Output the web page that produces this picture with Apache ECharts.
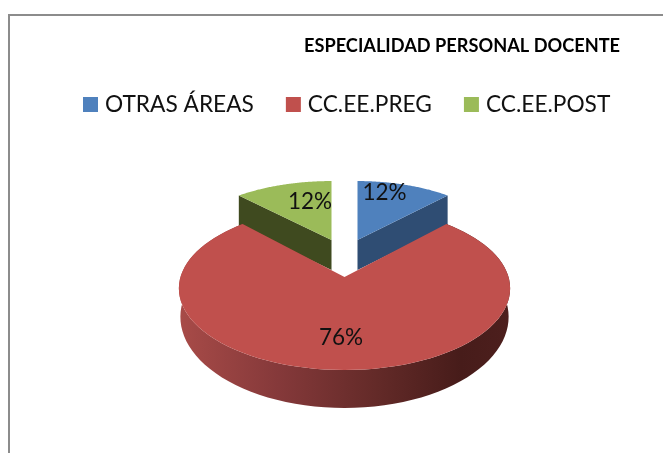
<!DOCTYPE html>
<html>
<head>
<meta charset="utf-8">
<style>html,body{margin:0;padding:0;background:#fff}#c{width:663px;height:453px}</style>
<script src="https://cdn.jsdelivr.net/npm/echarts@6/dist/echarts.min.js"></script>
</head>
<body>
<div id="c"></div>
<script>
var titleText = 'ESPECIALIDAD PERSONAL DOCENTE';
var categories = ['OTRAS ÁREAS', 'CC.EE.PREG', 'CC.EE.POST'];
var values = [12, 76, 12];
var faceColors = ['#4f81bd', '#c0504d', '#9bbb59'];
var wallColors = ['#2f4d73', null, '#3f4a1f'];

// Projection of the tilted disc (perspective), and placement of each exploded slice
var view = { cx: 344.5, top: { y0: 277, a: 164, b: 80 }, bottom: { y0: 304, a: 162.5, b: 89.4 }, k: 0.14 };
var placement = [
  { dx: 13, y0: 240, sx: 0.885, sy: 0.84, depth: 30, lx: 384.5, ly: 193 },
  { dx: 0, y0: 0, sx: 1, sy: 1, depth: 0, lx: 341, ly: 338 },
  { dx: -13, y0: 240, sx: 0.91, sy: 0.84, depth: 30, lx: 310, ly: 202 }
];

var total = values.reduce(function (s, v) { return s + v; }, 0);

function project(theta, r, rim) {
  var u = r * Math.sin(theta), v = r * Math.cos(theta), w = 1 + view.k * v;
  return [rim.a * u / w, -rim.b * v / w];
}
function arc(from, to, rim, ox, oy, sx, sy) {
  var pts = [], n = 90;
  for (var i = 0; i <= n; i++) {
    var p = project(from + (to - from) * i / n, 1, rim);
    pts.push([ox + p[0] * sx, oy + p[1] * sy]);
  }
  return pts;
}

function makeRender(idx) {
  return function (params, api) {
    var before = 0;
    for (var i = 0; i < idx; i++) before += values[i];
    var v = api.value(0);
    var a0 = before / total * 2 * Math.PI, a1 = (before + v) / total * 2 * Math.PI;
    var P = placement[idx], children = [];
    var label = {
      type: 'text', z2: 10,
      style: { x: P.lx, y: P.ly, text: Math.round(v / total * 100) + '%', fill: '#111',
        font: '22.5px Lato, sans-serif', align: 'center', verticalAlign: 'middle' }
    };
    if (P.depth === 0) {
      var t = view.top, b = view.bottom;
      var wall = arc(a0, a1, t, view.cx, t.y0, 1, 1).concat(arc(a0, a1, b, view.cx, b.y0, 1, 1).reverse());
      children.push({ type: 'polygon', shape: { points: wall }, style: {
        fill: new echarts.graphic.LinearGradient(0, 0, 1, 0, [
          { offset: 0, color: '#a84b48' }, { offset: 0.3, color: '#85393a' },
          { offset: 0.6, color: '#632a28' }, { offset: 0.85, color: '#471c1a' }, { offset: 1, color: '#4d1f1d' }
        ]) } });
      var face = [[view.cx, t.y0]].concat(arc(a0, a1, t, view.cx, t.y0, 1, 1));
      children.push({ type: 'polygon', shape: { points: face }, style: { fill: faceColors[idx] } });
    } else {
      var ox = view.cx + P.dx, oy = P.y0;
      var rim = arc(a0, a1, view.top, ox, oy, P.sx, P.sy);
      var edge = idx === 0 ? rim[rim.length - 1] : rim[0];
      children.push({ type: 'polygon', shape: { points: [
        [ox, oy], edge, [edge[0], edge[1] + P.depth], [ox, oy + P.depth]
      ] }, style: { fill: wallColors[idx] } });
      children.push({ type: 'polygon', shape: { points: [[ox, oy]].concat(rim) }, style: { fill: faceColors[idx] } });
    }
    children.push(label);
    return { type: 'group', children: children };
  };
}

var chart = echarts.init(document.getElementById('c'), null, { renderer: 'canvas' });
chart.setOption({
  animation: false,
  backgroundColor: '#ffffff',
  color: faceColors,
  title: {
    text: titleText, left: 299, top: 32,
    textStyle: { fontFamily: 'Lato, sans-serif', fontWeight: 'bold', fontSize: 18.2, color: '#000' }
  },
  legend: {
    left: 78, top: 88, itemWidth: 15, itemHeight: 15, itemGap: 32,
    icon: 'rect', data: categories,
    textStyle: { fontFamily: 'Lato, sans-serif', fontSize: 22.7, color: '#111', padding: [0, 0, 0, 2] }
  },
  graphic: [
    { type: 'polyline', silent: true, z: -1, shape: { points: [[9, 453], [9, 15], [663, 15]] },
      style: { stroke: '#8c8c8c', lineWidth: 2, fill: null } }
  ],
  series: categories.map(function (name, i) {
    return {
      type: 'custom', name: name, coordinateSystem: 'none',
      z: i === 1 ? 3 : 2, silent: true,
      itemStyle: { color: faceColors[i] },
      data: [[values[i]]],
      renderItem: makeRender(i)
    };
  })
});
</script>
</body>
</html>
